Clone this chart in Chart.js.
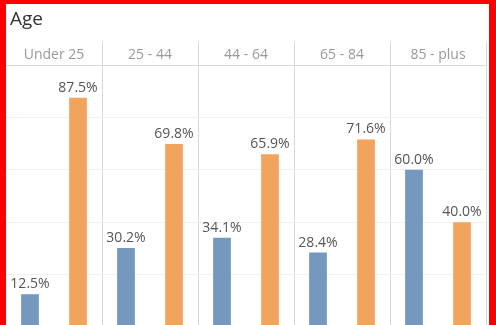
<!DOCTYPE html>
<html lang="en">
<head>
    <meta charset="UTF-8">
    <title>Age</title>
    <script src="https://cdn.jsdelivr.net/npm/chart.js"></script>
    <style>
        * { margin: 0; padding: 0; box-sizing: border-box; }
        html, body { width: 496px; height: 325px; overflow: hidden; background: #fff; }
        .frame {
            position: absolute;
            left: 0; top: 0;
            width: 496px; height: 345px;
            border-left: 6px solid #ff0000;
            border-top: 4px solid #ff0000;
            border-right: 7px solid #ff0000;
        }
        .title {
            position: absolute;
            left: 4px; top: 5px;
            font-family: 'Open Sans', sans-serif;
            font-size: 19px;
            line-height: 19px;
            color: #333;
        }
        .chart-box { position: absolute; left: 0; top: 0; width: 483px; height: 336px; }
    </style>
</head>
<body>
    <div class="frame">
        <div class="chart-box"><canvas id="ageChart"></canvas></div>
        <div class="title">Age</div>
    </div>

    <script>
        const ageGroups = ["Under 25", "25 - 44", "44 - 64", "65 - 84", "85 - plus"];
        const blueValues = [12.5, 30.2, 34.1, 28.4, 60.0];
        const orangeValues = [87.5, 69.8, 65.9, 71.6, 40.0];
        const yTicks = [0, 20, 40, 60, 80, 100];

        // etiquetas de valor por cima das barras
        const valueLabels = {
            id: 'valueLabels',
            afterDatasetsDraw(chart) {
                const ctx = chart.ctx;
                ctx.save();
                ctx.font = "14px 'Open Sans', sans-serif";
                ctx.fillStyle = '#555';
                ctx.textAlign = 'center';
                ctx.textBaseline = 'alphabetic';
                chart.data.datasets.forEach((ds, i) => {
                    chart.getDatasetMeta(i).data.forEach((bar, j) => {
                        ctx.fillText(ds.data[j].toFixed(1) + '%', bar.x, bar.y - 6);
                    });
                });
                ctx.restore();
            }
        };

        new Chart(document.getElementById('ageChart'), {
            type: 'bar',
            data: {
                labels: ageGroups,
                datasets: [
                    { data: blueValues, backgroundColor: '#7498be', barPercentage: 0.37, categoryPercentage: 1 },
                    { data: orangeValues, backgroundColor: '#f3a45c', barPercentage: 0.37, categoryPercentage: 1 }
                ]
            },
            options: {
                responsive: true,
                maintainAspectRatio: false,
                animation: false,
                layout: { padding: { top: 37, right: 3, bottom: 13, left: 0 } },
                plugins: {
                    legend: { display: false },
                    tooltip: { enabled: false }
                },
                scales: {
                    x: {
                        position: 'top',
                        afterFit(scale) { scale.height = 24; },
                        grid: {
                            color: (c) => c.index === 0 ? 'rgba(0,0,0,0)' : '#d9d9d9',
                            tickLength: 23,
                            lineWidth: 1
                        },
                        border: { color: '#d9d9d9' },
                        ticks: {
                            padding: -21,
                            color: '#999',
                            font: { family: "'Open Sans', sans-serif", size: 14 }
                        }
                    },
                    y: {
                        min: 0,
                        max: 100,
                        afterFit(scale) { scale.width = 0; },
                        afterBuildTicks(scale) { scale.ticks = yTicks.map(v => ({ value: v })); },
                        grid: { color: '#f0f0f0', drawTicks: false },
                        border: { display: false },
                        ticks: { display: false }
                    }
                }
            },
            plugins: [valueLabels]
        });
    </script>
</body>
</html>
